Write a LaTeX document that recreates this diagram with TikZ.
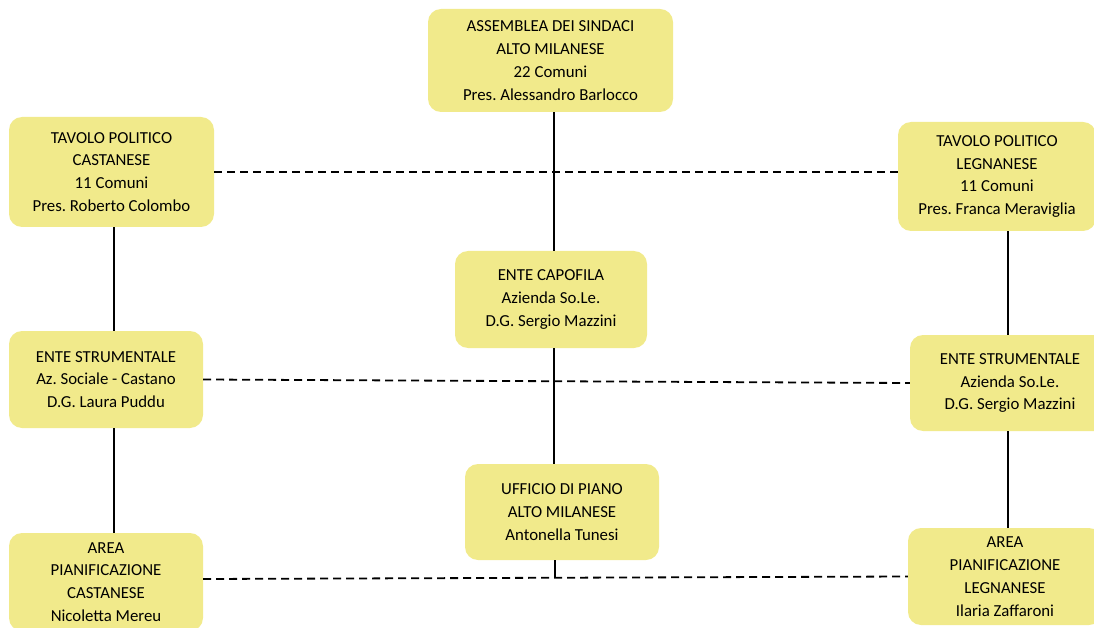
\documentclass[tikz,border=0pt]{standalone}
\usepackage{fontspec}
\setmainfont{Carlito}
\usetikzlibrary{calc}
\frenchspacing

\definecolor{boxyellow}{RGB}{241,234,139}
\tikzset{
    ente/.style={fill=boxyellow, rounded corners=13pt, align=center, inner sep=0pt,
        font=\fontsize{16.8}{22.8}\selectfont},
    link/.style={line width=1.5pt},
    dashlink/.style={line width=1.8pt, dash pattern=on 8pt off 5pt}
}

\begin{document}
\begin{tikzpicture}[x=1pt, y=-1pt]
    \clip (0,0) rectangle (1094,628);
    % centre column
    \node[ente, minimum width=245pt, minimum height=103pt] (assemblea) at (550.5,60.5)
        {ASSEMBLEA DEI SINDACI\\ALTO MILANESE\\22 Comuni\\Pres. Alessandro Barlocco};
    \node[ente, minimum width=192pt, minimum height=97pt] (capofila) at (551,299.5)
        {ENTE CAPOFILA\\Azienda So.Le.\\D.G. Sergio Mazzini};
    \node[ente, minimum width=194pt, minimum height=96pt] (ufficio) at (562,512)
        {UFFICIO DI PIANO\\ALTO MILANESE\\Antonella Tunesi};
    % Castanese
    \node[ente, minimum width=205pt, minimum height=110pt] (tavoloC) at (111.5,172)
        {TAVOLO POLITICO\\CASTANESE\\11 Comuni\\Pres. Roberto Colombo};
    \node[ente, minimum width=194pt, minimum height=97pt] (strumC) at (106,379.5)
        {ENTE STRUMENTALE\\Az. Sociale - Castano\\D.G. Laura Puddu};
    \node[ente, minimum width=194pt, minimum height=98pt] (areaC) at (106,582)
        {AREA\\PIANIFICAZIONE\\CASTANESE\\Nicoletta Mereu};
    % Legnanese
    \node[ente, minimum width=198pt, minimum height=109pt] (tavoloL) at (997,176.5)
        {TAVOLO POLITICO\\LEGNANESE\\11 Comuni\\Pres. Franca Meraviglia};
    \node[ente, minimum width=200pt, minimum height=96pt] (strumL) at (1010,383)
        {ENTE STRUMENTALE\\Azienda So.Le.\\D.G. Sergio Mazzini};
    \node[ente, minimum width=194pt, minimum height=97pt] (areaL) at (1005,576.5)
        {AREA\\PIANIFICAZIONE\\LEGNANESE\\Ilaria Zaffaroni};

    \coordinate (colC) at (114,0);
    \coordinate (colM) at (554,0);
    \coordinate (colL) at (1008,0);
    \coordinate (pianoJ) at (555,577.5);

    \draw[link] (assemblea.south -| colM) -- (capofila.north -| colM);
    \draw[link] (capofila.south -| colM) -- (ufficio.north -| colM);
    \draw[link] (pianoJ |- ufficio.south) -- (pianoJ);
    \draw[link] (tavoloC.south -| colC) -- (strumC.north -| colC);
    \draw[link] (strumC.south -| colC) -- (areaC.north -| colC);
    \draw[link] (tavoloL.south -| colL) -- (strumL.north -| colL);
    \draw[link] (strumL.south -| colL) -- (areaL.north -| colL);

    \draw[dashlink] (tavoloC.east) -- (tavoloC.east -| tavoloL.west);
    \draw[dashlink] (strumC.east) -- (strumL.west);
    \draw[dashlink] ([yshift=3pt]areaC.east) -- (areaL.west);
\end{tikzpicture}
\end{document}
